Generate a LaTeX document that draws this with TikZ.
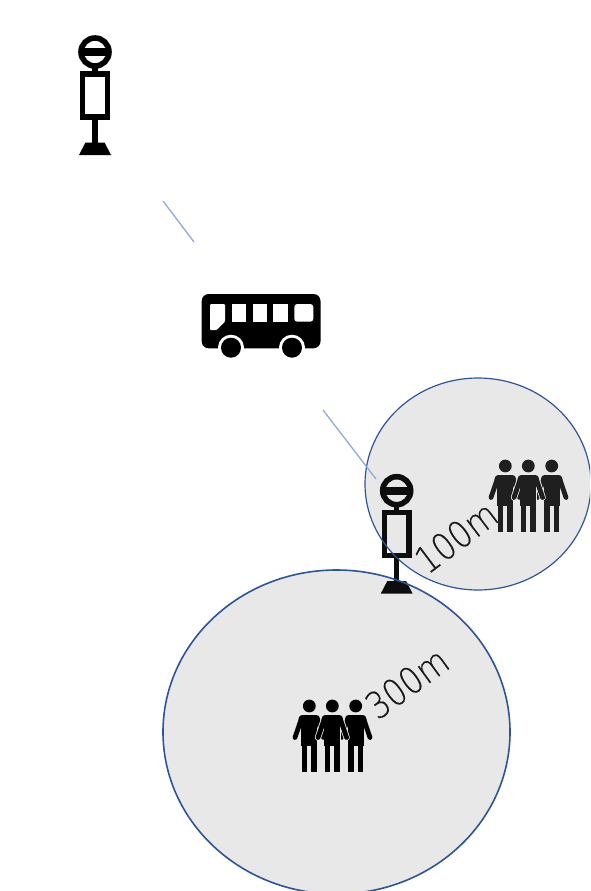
\documentclass[tikz,border=0pt]{standalone}
\usepackage{fontspec}
\newfontfamily\labfont[FakeBold=0.3,FakeStretch=0.86]{DejaVu Sans ExtraLight}
\definecolor{zonefill}{HTML}{E8E8E8}
\definecolor{zoneline}{HTML}{2F5597}
\definecolor{linkline}{HTML}{8FAADC}
\tikzset{
  zone/.style={fill=zonefill,draw=none},
  zoneedge/.style={draw=zoneline,line width=1.6pt},
  link/.style={draw=linkline,line width=1.3pt},
  distlabel/.style={font=\labfont\fontsize{37}{37}\selectfont,text=#1,inner sep=0pt},
  pics/stop/.style={code={
    \draw[line width=5.6pt] (0,0) circle[radius=14];
    \fill (-14,-3.9) rectangle (14,3.9);
    \fill (-2.7,14) rectangle (2.7,20);
    \draw[line width=5.4pt] (-12.4,22) rectangle (12.4,65);
    \fill (-2.7,67) rectangle (2.7,92);
    \fill (-9.5,90.5) -- (9.5,90.5) -- (16,103) -- (-16,103) -- cycle;
  }},
  pics/personshape/.style={code={
    \fill (0,0) circle[radius=6.4];
    \fill[rounded corners=3.5pt] (-10.6,18) -- (-10.6,9) -- (10.6,9) -- (10.6,18) -- cycle;
    \fill (-8,14) rectangle (8,39.5);
    \fill (-7.6,39) rectangle (-2,65.7);
    \fill (2,39) rectangle (7.6,65.7);
    \draw[line width=4.8pt,line cap=round] (-8,13) -- (-14.3,31.5);
    \draw[line width=4.8pt,line cap=round] (8,13) -- (14.3,31.5);
  }},
  pics/crowd/.style={code={
    \pic[#1] at (-23,0) {personshape};
    \pic[#1] at (23.4,0) {personshape};
    \draw[zonefill,line width=6.4pt,line cap=round] (-8.5,14) -- (-14.3,31.5);
    \draw[zonefill,line width=6.4pt,line cap=round] (8.5,14) -- (14.3,31.5);
    \fill[zonefill] (-8.6,17) rectangle (8.6,66.5);
    \pic[#1] at (0,0) {personshape};
  }}
}
\begin{document}
\begin{tikzpicture}[x=1pt,y=-1pt]
\clip (0,0) rectangle (590,891);
\fill[white] (0,0) rectangle (590,891);
% zones
\fill[zone] (478,484) ellipse[x radius=113,y radius=106];
\fill[zone] (336.5,732) ellipse[x radius=173.5,y radius=162];
% stops
\pic[black] at (95,52) {stop};
\pic[black!95] at (396.7,490.7) {stop};
% zone outlines
\draw[zoneedge,line width=1.2pt] (478,484) ellipse[x radius=113,y radius=106];
\draw[zoneedge] (336.5,732) ellipse[x radius=173.5,y radius=162];
% links
\coordinate (a1) at (163,201); \coordinate (a2) at (194,242);
\coordinate (b1) at (323,410); \coordinate (b2) at (376,479);
\draw[link] (a1) -- (a2);
\draw[link] (b1) -- (b2);
% bus
\fill[black,rounded corners=7pt] (201.7,294) rectangle (320.5,348.3);
\fill[white,rounded corners=1pt] (210,304) -- (225,304) -- (225,321.7) -- (216.7,330) -- (210,330) -- cycle;
\fill[white] (231.7,304) rectangle (245.7,321.7);
\fill[white] (252.7,304) rectangle (266.7,321.7);
\fill[white] (273.3,304) rectangle (287.7,321.7);
\fill[white,rounded corners=3pt] (294.3,304) rectangle (313.3,321.7);
\fill[white] (231,347.7) circle[radius=13];
\fill[white] (292,347.7) circle[radius=13];
\fill[black] (231,347.7) circle[radius=10];
\fill[black] (292,347.7) circle[radius=10];
% people
\pic[black!88] at (528.3,466) {crowd={black!88}};
\pic[black] at (332.3,706) {crowd={black}};
% labels
\node[distlabel=black!90,rotate=37] (lab100) at (456,537) {100m};
\node[distlabel=black!90,rotate=36] (lab300) at (407,683) {300m};
\end{tikzpicture}
\end{document}
